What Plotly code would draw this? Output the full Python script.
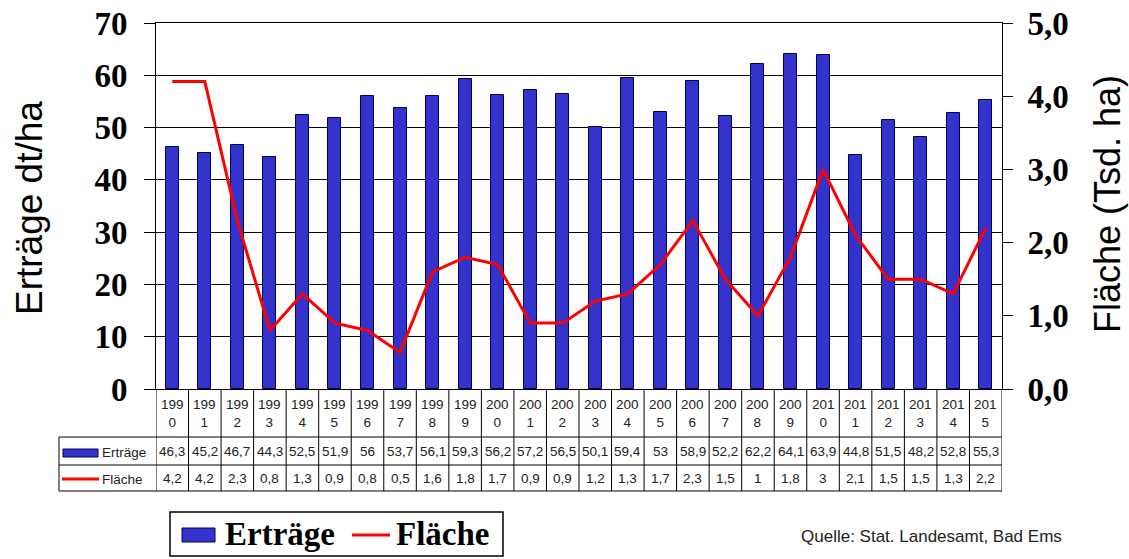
import plotly.graph_objects as go

years = list(range(1990, 2016))
ertraege = [46.3, 45.2, 46.7, 44.3, 52.5, 51.9, 56, 53.7, 56.1, 59.3, 56.2, 57.2, 56.5, 50.1,
            59.4, 53, 58.9, 52.2, 62.2, 64.1, 63.9, 44.8, 51.5, 48.2, 52.8, 55.3]
flaeche = [4.2, 4.2, 2.3, 0.8, 1.3, 0.9, 0.8, 0.5, 1.6, 1.8, 1.7, 0.9, 0.9, 1.2,
           1.3, 1.7, 2.3, 1.5, 1, 1.8, 3, 2.1, 1.5, 1.5, 1.3, 2.2]

W, H = 1129, 559
# plot area in page pixels
L, R, T, B = 156, 1002, 23, 389
pw, ph = R - L, B - T


def px(x):
    return (x - L) / pw


def py(y):
    return (B - y) / ph


def fmt(v):
    return ("%g" % v).replace(".", ",")


BLUE = "#3333CC"
RED = "#FF0000"
SANS = "Liberation Sans"
SERIF = "Liberation Serif"

fig = go.Figure()
fig.add_trace(go.Bar(x=years, y=ertraege, name="Erträge", width=0.4,
                     marker=dict(color=BLUE, line=dict(color="#000060", width=1)),
                     showlegend=False))
fig.add_trace(go.Scatter(x=years, y=flaeche, name="Fläche", yaxis="y2", mode="lines",
                         line=dict(color=RED, width=3), showlegend=False))

shapes = []
annotations = []


def ann(x, y, text, font, xref="paper", xanchor="center", **kw):
    d = dict(x=x, y=y, xref=xref, yref="paper", text=text, showarrow=False,
             font=font, xanchor=xanchor, yanchor="middle")
    d.update(kw)
    annotations.append(d)


# table geometry
tbl_left = 59
for yline in [437, 465, 491]:
    shapes.append(dict(type="line", xref="paper", yref="paper", x0=px(tbl_left), x1=1,
                       y0=py(yline), y1=py(yline), line=dict(color="black", width=1)))
shapes.append(dict(type="line", xref="paper", yref="paper", x0=px(tbl_left), x1=px(tbl_left),
                   y0=py(437), y1=py(491), line=dict(color="black", width=1)))
for i in range(len(years) + 1):
    xv = years[0] - 0.5 + i
    shapes.append(dict(type="line", xref="x", yref="paper", x0=xv, x1=xv,
                       y0=0, y1=py(491), line=dict(color="black", width=1)))

tfont = dict(family=SANS, size=13.5, color="#222")
for yr, e, f in zip(years, ertraege, flaeche):
    s = str(yr)
    ann(yr, py(413), s[:3] + "<br>" + s[3:], tfont, xref="x", align="center")
    ann(yr, py(451), fmt(e), tfont, xref="x")
    ann(yr, py(478), fmt(f), tfont, xref="x")

# row headers
shapes.append(dict(type="rect", xref="paper", yref="paper", x0=px(63), x1=px(98),
                   y0=py(457), y1=py(449), fillcolor=BLUE, line=dict(color="#000060", width=1)))
shapes.append(dict(type="line", xref="paper", yref="paper", x0=px(62), x1=px(99),
                   y0=py(479), y1=py(479), line=dict(color=RED, width=3)))
hfont = dict(family=SANS, size=13.5, color="#222")
ann(px(100), py(452), "Erträge", hfont, xanchor="left")
ann(px(100), py(479), "Fläche", hfont, xanchor="left")

# legend box
shapes.append(dict(type="rect", xref="paper", yref="paper", x0=px(170), x1=px(503),
                   y0=py(556), y1=py(512), line=dict(color="black", width=1.5), fillcolor="white"))
shapes.append(dict(type="rect", xref="paper", yref="paper", x0=px(182), x1=px(215),
                   y0=py(542), y1=py(528), fillcolor=BLUE, line=dict(color="#000060", width=1)))
shapes.append(dict(type="line", xref="paper", yref="paper", x0=px(352), x1=px(390),
                   y0=py(535), y1=py(535), line=dict(color=RED, width=3)))
lfont = dict(family=SERIF, size=33, color="black", weight="bold")
ann(px(223), py(534), "Erträge", lfont, xanchor="left")
ann(px(394), py(534), "Fläche", lfont, xanchor="left")

# source
ann(px(799), py(536), "Quelle: Stat. Landesamt, Bad Ems",
    dict(family=SANS, size=17, color="#222"), xanchor="left")

# axis titles
ann(px(29), py(208), "Erträge dt/ha", dict(family=SANS, size=37, color="black"), textangle=-90)
ann(px(1107), py(204), "Fläche (Tsd. ha)", dict(family=SANS, size=36, color="black"),
    textangle=-90)

nfont = dict(family=SERIF, size=33, color="black", weight="bold")
fig.update_layout(
    width=W, height=H, autosize=False,
    margin=dict(l=L, r=W - R, t=T, b=H - B, pad=0),
    paper_bgcolor="white", plot_bgcolor="white",
    separators=",.",
    bargap=0,
    xaxis=dict(range=[years[0] - 0.5, years[-1] + 0.5], showticklabels=False, ticks="",
               showgrid=False, zeroline=False, showline=True, mirror=True,
               linecolor="black", linewidth=1, automargin=False),
    yaxis=dict(range=[0, 70], dtick=10, showgrid=True, gridcolor="black", gridwidth=1,
               zeroline=True, zerolinecolor="black", zerolinewidth=1,
               ticks="outside", ticklen=11, tickcolor="black", tickwidth=1,
               showline=True, linecolor="black", linewidth=1, tickfont=nfont,
               ticklabelstandoff=10, automargin=False, ticklabeloverflow="allow"),
    yaxis2=dict(range=[0, 5], dtick=1, tickformat=".1f", overlaying="y", side="right",
                showgrid=False, zeroline=False, ticks="outside", ticklen=10,
                tickcolor="black", tickwidth=1, showline=True, linecolor="black",
                linewidth=1, tickfont=nfont, ticklabelstandoff=8, automargin=False,
                ticklabeloverflow="allow"),
    shapes=shapes,
    annotations=annotations,
)

fig.write_html("out.html", config={"displayModeBar": False},
               post_script="document.body.style.margin='0px';document.body.style.overflow='hidden';")
